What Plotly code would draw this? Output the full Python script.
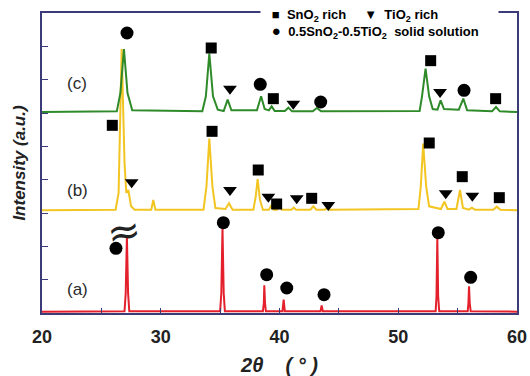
import plotly.graph_objects as go

# ---- data: XRD patterns (2theta in degrees, offset intensity a.u.) ----
a_x = [20, 26.95, 27.05, 27.15, 27.25, 27.35, 35.0, 35.1, 35.2, 35.3, 35.4, 38.6, 38.68, 38.72, 38.78, 38.85,
       40.25, 40.35, 40.45, 43.45, 43.55, 43.65, 53.15, 53.22, 53.29, 53.36, 53.45, 55.85, 55.91, 55.96, 56.02, 56.1, 60]
a_y = [0.04, 0.05, 0.6, 2.3, 0.6, 0.05, 0.05, 0.6, 2.54, 0.6, 0.05, 0.05, 0.3, 0.83, 0.3, 0.05,
       0.05, 0.40, 0.05, 0.05, 0.23, 0.05, 0.05, 0.5, 2.24, 0.5, 0.05, 0.05, 0.3, 0.8, 0.3, 0.05, 0.04]

b_x = [20, 26.2, 26.45, 26.71, 26.95, 27.1, 27.27, 27.5, 27.8, 29.2, 29.37, 29.55, 33.6, 33.85, 34.09, 34.35, 34.6,
       35.45, 35.75, 36.05, 37.8, 38.0, 38.16, 38.35, 38.6, 39.1, 39.3, 39.5, 39.8, 40.0, 40.2, 41.0, 41.2, 41.4,
       42.6, 42.85, 43.1, 43.8, 44.0, 44.2, 51.7, 51.9, 52.1, 52.35, 52.6, 53.6, 53.88, 54.15, 54.9, 55.2, 55.45,
       55.95, 56.2, 56.45, 58.0, 58.3, 58.6, 60]
b_y = [3.08, 3.1, 3.6, 7.92, 4.5, 3.6, 3.69, 3.2, 3.1, 3.1, 3.39, 3.1, 3.1, 3.8, 5.23, 3.8, 3.15,
       3.12, 3.29, 3.1, 3.1, 3.5, 4.02, 3.4, 3.1, 3.1, 3.22, 3.1, 3.1, 3.18, 3.1, 3.1, 3.16, 3.1,
       3.1, 3.2, 3.1, 3.1, 3.14, 3.1, 3.12, 3.8, 5.08, 3.8, 3.2, 3.12, 3.34, 3.12, 3.12, 3.69, 3.15,
       3.1, 3.16, 3.1, 3.1, 3.19, 3.1, 3.08]

c_x = [20, 26.3, 26.6, 26.9, 27.2, 27.6, 33.5, 33.8, 34.09, 34.4, 34.8, 35.3, 35.63, 35.95, 38.1, 38.45, 38.75,
       39.1, 39.34, 39.6, 40.45, 40.75, 41.05, 42.8, 43.15, 43.5, 51.8, 52.0, 52.3, 52.6, 52.9, 53.3, 53.57, 53.85,
       55.1, 55.48, 55.8, 57.9, 58.23, 58.55, 60]
c_y = [6.03, 6.05, 6.6, 7.92, 6.6, 6.08, 6.05, 6.5, 7.78, 6.5, 6.1, 6.06, 6.40, 6.08, 6.08, 6.5, 6.12,
       6.08, 6.2, 6.06, 6.06, 6.16, 6.05, 6.05, 6.15, 6.05, 6.06, 6.5, 7.33, 6.5, 6.12, 6.1, 6.38, 6.12,
       6.1, 6.43, 6.08, 6.05, 6.18, 6.05, 6.03]

# ---- phase markers ----
sq_x = [34.25, 39.48, 52.73, 58.2, 25.92, 34.32, 38.21, 39.76, 42.71, 52.61, 55.39, 58.51]
sq_y = [7.95, 6.43, 7.57, 6.43, 5.63, 5.45, 4.29, 3.27, 3.44, 5.10, 4.09, 3.46]
tri_x = [35.83, 41.16, 53.52, 27.55, 35.83, 39.06, 41.45, 44.11, 54.0, 56.24]
tri_y = [6.73, 6.28, 6.63, 3.92, 3.69, 3.49, 3.44, 3.24, 3.59, 3.52]
ci_x = [27.16, 38.38, 43.47, 55.54, 26.23, 35.27, 38.92, 40.61, 43.75, 53.37, 56.1]
ci_y = [8.40, 6.86, 6.33, 6.68, 1.94, 2.71, 1.15, 0.75, 0.55, 2.41, 1.07]

sample_labels = ["(a)", "(b)", "(c)"]
label_x = [22.95, 22.95, 22.95]
label_y = [0.72, 3.69, 6.9]
x_ticks = [20, 30, 40, 50, 60]

AX = "#3b3b78"
FONT = "Liberation Sans"
W, H = 530, 376
L, R, T, B = 42, 13, 13, 63
PW, PH = W - L - R, H - T - B

fig = go.Figure()
fig.add_trace(go.Scatter(x=a_x, y=a_y, mode="lines", line=dict(color="#e3202b", width=2), showlegend=False))
fig.add_trace(go.Scatter(x=b_x, y=b_y, mode="lines", line=dict(color="#f2c522", width=2), showlegend=False))
fig.add_trace(go.Scatter(x=c_x, y=c_y, mode="lines", line=dict(color="#2f8a2a", width=2), showlegend=False))
fig.add_trace(go.Scatter(x=sq_x, y=sq_y, mode="markers", marker=dict(symbol="square", size=11, color="black"), showlegend=False))
fig.add_trace(go.Scatter(x=tri_x, y=tri_y, mode="markers", marker=dict(symbol="triangle-down", size=12, color="black"), showlegend=False))
fig.add_trace(go.Scatter(x=ci_x, y=ci_y, mode="markers", marker=dict(symbol="circle", size=13, color="black"), showlegend=False))

for t, xx, yy in zip(sample_labels, label_x, label_y):
    fig.add_annotation(x=xx, y=yy, text=t, showarrow=False, font=dict(family=FONT, size=17, color="#2a2a2a"))

# break mark on the clipped (a) peak
fig.add_annotation(x=26.9, y=2.45, text="≈", showarrow=False, textangle=-10,
                   font=dict(family="DejaVu Sans", size=40, color="#222222"))

# legend box (two rows, white background hides the frame behind it)
row1 = ('   <span style="font-size:13px">■</span>  SnO<sub>2</sub> rich     '
        '<span style="font-size:13px">▼</span>  TiO<sub>2</sub> rich')
row2 = '   <span style="font-size:15px">●</span>  0.5SnO<sub>2</sub>-0.5TiO<sub>2</sub>  solid solution'
fig.add_annotation(xref="paper", yref="paper", x=(260 - L) / PW, y=(H - B - 23.5) / PH,
                   xanchor="left", yanchor="middle", text=row1 + "<br>" + row2, showarrow=False,
                   align="left", bgcolor="white", borderpad=0, width=237,
                   font=dict(family=FONT, size=13, color="black", weight="bold"))

fig.update_layout(
    width=W, height=H,
    margin=dict(l=L, r=R, t=T, b=B, autoexpand=False),
    plot_bgcolor="white", paper_bgcolor="white",
    xaxis=dict(range=[20, 60], tickvals=x_ticks, ticks="inside", ticklen=5, tickcolor=AX, automargin=False,
               minor=dict(dtick=5, ticks="inside", ticklen=5, tickcolor=AX),
               showline=True, linecolor=AX, linewidth=1.5, mirror=True, showgrid=False, zeroline=False,
               ticklabelstandoff=7,
               tickfont=dict(family=FONT, size=18, color="#222222", weight="bold"),
               title=dict(text="2<i>θ</i>    ( ° )", standoff=13,
                          font=dict(family=FONT, size=20, color="#222222", weight="bold", style="italic"))),
    yaxis=dict(range=[0, 9], dtick=1, ticks="inside", ticklen=6, tickcolor=AX, showticklabels=False, automargin=False,
               showline=True, linecolor=AX, linewidth=1.5, mirror=True, showgrid=False, zeroline=False,
               title=dict(text="Intensity (a.u.)", standoff=10,
                          font=dict(family=FONT, size=17, color="#222222", weight="bold", style="italic"))),
)

fig.write_html("out.html", config={"displayModeBar": False},
               post_script="document.body.style.margin='0';")
